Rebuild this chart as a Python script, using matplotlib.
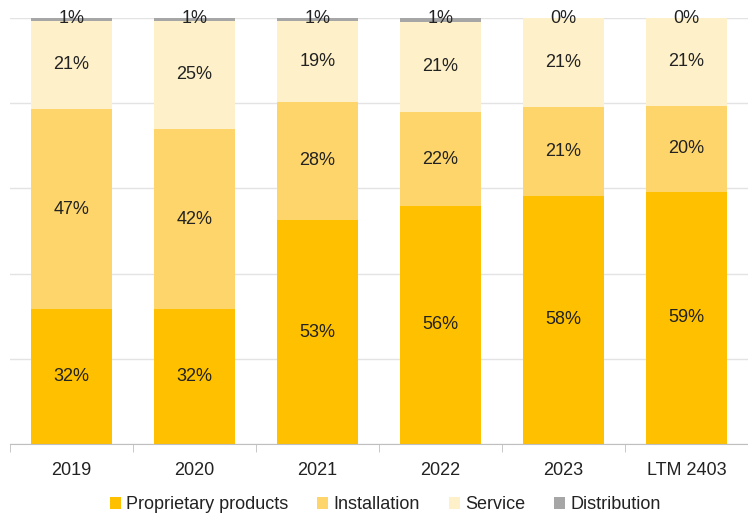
import numpy as np
import matplotlib.pyplot as plt

plt.rcParams['font.family'] = ['Liberation Sans Narrow', 'Liberation Sans', 'DejaVu Sans']

# Data (share of revenue, %)
categories = ["2019", "2020", "2021", "2022", "2023", "LTM 2403"]
proprietary = [31.6, 31.6, 52.6, 55.9, 58.3, 59.2]
installation = [47.1, 42.4, 27.8, 22.0, 20.7, 20.2]
service = [20.6, 25.3, 18.9, 21.2, 21.0, 20.6]
distribution = [0.7, 0.7, 0.7, 0.9, 0.0, 0.0]

series_names = ["Proprietary products", "Installation", "Service", "Distribution"]
colors = ["#FFC000", "#FDD56A", "#FEF0C8", "#A6A6A6"]
TEXT = "#222222"


def main():
    fig = plt.figure(figsize=(7.48, 5.14), dpi=100)
    ax = fig.add_axes([0.0134, 0.136, 0.9866, 0.829])

    x = np.arange(len(categories))
    width = 0.66
    bottom = np.zeros(len(categories))
    all_series = [proprietary, installation, service, distribution]

    for name, vals, col in zip(series_names, all_series, colors):
        vals = np.array(vals)
        ax.bar(x, vals, width, bottom=bottom, color=col, label=name, zorder=2)
        for i, v in enumerate(vals):
            if name == "Distribution":
                y = 99.8
            else:
                y = bottom[i] + v / 2
            ax.text(x[i], y, f"{int(round(v))}%", ha="center", va="center",
                    fontsize=13, color=TEXT, zorder=3)
        bottom += vals

    # Axes styling
    ax.set_xlim(-0.5, 5.45)
    ax.set_ylim(0, 100)
    ax.set_yticks(np.arange(0, 101, 20))
    ax.yaxis.grid(True, color="#E3E3E3", linewidth=1, zorder=0)
    ax.tick_params(axis="y", left=False, labelleft=False)
    for side in ["left", "right", "top"]:
        ax.spines[side].set_visible(False)
    ax.spines["bottom"].set_color("#BFBFBF")
    ax.set_xticks(x)
    ax.set_xticklabels(categories, fontsize=13, color=TEXT)
    ax.tick_params(axis="x", length=0, pad=13)
    ax.set_xticks(np.arange(-0.5, len(categories), 1), minor=True)
    ax.tick_params(axis="x", which="minor", length=6, color="#BFBFBF")

    fig.legend(loc="lower center", bbox_to_anchor=(0.515, -0.03), ncol=4,
               frameon=False, fontsize=13, handlelength=0.6, handleheight=0.6,
               handletextpad=0.3, columnspacing=1.6, labelcolor=TEXT)

    fig.savefig("out.png", dpi=100)


if __name__ == "__main__":
    main()
